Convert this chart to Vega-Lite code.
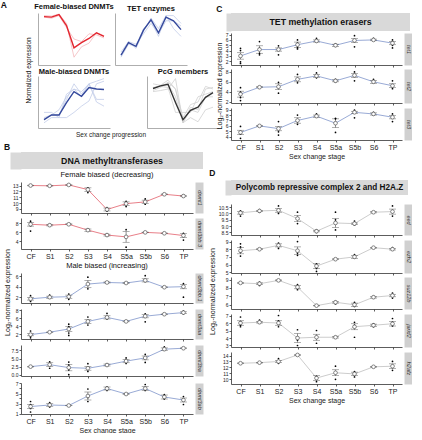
{
"$schema":"https://vega.github.io/schema/vega-lite/v6.json",
"padding":{"left":0,"top":1,"right":1,"bottom":0},
"config":{"font":"Liberation Sans","view":{"stroke":null},
 "axis":{"labelFontSize":5,"tickSize":2,"labelPadding":1,"domainColor":"#333","tickColor":"#333","labelColor":"#222","grid":false,"titleFontWeight":"normal","titleFontSize":7,"titleColor":"#222","domainWidth":0.8,"tickWidth":0.8},
 "title":{"fontSize":7.5,"fontWeight":"normal","offset":2,"color":"#111"}},
"datasets":{
"a":[
{"p":"fem","k":"mean","s":"CF","v":0.93},{"p":"fem","k":"mean","s":"S1","v":0.92},{"p":"fem","k":"mean","s":"S2","v":0.97},{"p":"fem","k":"mean","s":"S3","v":0.76},{"p":"fem","k":"mean","s":"S4","v":0.33},{"p":"fem","k":"mean","s":"S5a","v":0.43},{"p":"fem","k":"mean","s":"S5b","v":0.51},{"p":"fem","k":"mean","s":"S6","v":0.62},{"p":"fem","k":"mean","s":"TP","v":0.55},
{"p":"fem","k":"f1","s":"CF","v":0.95},{"p":"fem","k":"f1","s":"S1","v":0.94},{"p":"fem","k":"f1","s":"S2","v":0.98},{"p":"fem","k":"f1","s":"S3","v":0.8},{"p":"fem","k":"f1","s":"S4","v":0.15},{"p":"fem","k":"f1","s":"S5a","v":0.35},{"p":"fem","k":"f1","s":"S5b","v":0.42},{"p":"fem","k":"f1","s":"S6","v":0.62},{"p":"fem","k":"f1","s":"TP","v":0.56},
{"p":"fem","k":"f2","s":"CF","v":0.92},{"p":"fem","k":"f2","s":"S1","v":0.9},{"p":"fem","k":"f2","s":"S2","v":0.95},{"p":"fem","k":"f2","s":"S3","v":0.72},{"p":"fem","k":"f2","s":"S4","v":0.5},{"p":"fem","k":"f2","s":"S5a","v":0.45},{"p":"fem","k":"f2","s":"S5b","v":0.6},{"p":"fem","k":"f2","s":"S6","v":0.58},{"p":"fem","k":"f2","s":"TP","v":0.52},
{"p":"tet","k":"mean","s":"CF","v":0.19},{"p":"tet","k":"mean","s":"S1","v":0.43},{"p":"tet","k":"mean","s":"S2","v":0.36},{"p":"tet","k":"mean","s":"S3","v":0.67},{"p":"tet","k":"mean","s":"S4","v":0.87},{"p":"tet","k":"mean","s":"S5a","v":0.62},{"p":"tet","k":"mean","s":"S5b","v":0.92},{"p":"tet","k":"mean","s":"S6","v":0.85},{"p":"tet","k":"mean","s":"TP","v":0.68},
{"p":"tet","k":"t1","s":"CF","v":0.25},{"p":"tet","k":"t1","s":"S1","v":0.45},{"p":"tet","k":"t1","s":"S2","v":0.4},{"p":"tet","k":"t1","s":"S3","v":0.6},{"p":"tet","k":"t1","s":"S4","v":0.8},{"p":"tet","k":"t1","s":"S5a","v":0.6},{"p":"tet","k":"t1","s":"S5b","v":0.85},{"p":"tet","k":"t1","s":"S6","v":0.85},{"p":"tet","k":"t1","s":"TP","v":0.75},
{"p":"tet","k":"t2","s":"CF","v":0.15},{"p":"tet","k":"t2","s":"S1","v":0.4},{"p":"tet","k":"t2","s":"S2","v":0.35},{"p":"tet","k":"t2","s":"S3","v":0.7},{"p":"tet","k":"t2","s":"S4","v":0.85},{"p":"tet","k":"t2","s":"S5a","v":0.55},{"p":"tet","k":"t2","s":"S5b","v":0.95},{"p":"tet","k":"t2","s":"S6","v":0.7},{"p":"tet","k":"t2","s":"TP","v":0.55},
{"p":"tet","k":"t3","s":"CF","v":0.18},{"p":"tet","k":"t3","s":"S1","v":0.45},{"p":"tet","k":"t3","s":"S2","v":0.32},{"p":"tet","k":"t3","s":"S3","v":0.65},{"p":"tet","k":"t3","s":"S4","v":0.9},{"p":"tet","k":"t3","s":"S5a","v":0.7},{"p":"tet","k":"t3","s":"S5b","v":0.95},{"p":"tet","k":"t3","s":"S6","v":0.95},{"p":"tet","k":"t3","s":"TP","v":0.8},
{"p":"mal","k":"mean","s":"CF","v":0.16},{"p":"mal","k":"mean","s":"S1","v":0.25},{"p":"mal","k":"mean","s":"S2","v":0.25},{"p":"mal","k":"mean","s":"S3","v":0.49},{"p":"mal","k":"mean","s":"S4","v":0.7},{"p":"mal","k":"mean","s":"S5a","v":0.61},{"p":"mal","k":"mean","s":"S5b","v":0.78},{"p":"mal","k":"mean","s":"S6","v":0.75},{"p":"mal","k":"mean","s":"TP","v":0.74},
{"p":"mal","k":"m1","s":"CF","v":0.1},{"p":"mal","k":"m1","s":"S1","v":0.2},{"p":"mal","k":"m1","s":"S2","v":0.2},{"p":"mal","k":"m1","s":"S3","v":0.65},{"p":"mal","k":"m1","s":"S4","v":0.75},{"p":"mal","k":"m1","s":"S5a","v":0.7},{"p":"mal","k":"m1","s":"S5b","v":0.85},{"p":"mal","k":"m1","s":"S6","v":0.55},{"p":"mal","k":"m1","s":"TP","v":0.55},
{"p":"mal","k":"m2","s":"CF","v":0.15},{"p":"mal","k":"m2","s":"S1","v":0.25},{"p":"mal","k":"m2","s":"S2","v":0.35},{"p":"mal","k":"m2","s":"S3","v":0.6},{"p":"mal","k":"m2","s":"S4","v":0.75},{"p":"mal","k":"m2","s":"S5a","v":0.6},{"p":"mal","k":"m2","s":"S5b","v":0.85},{"p":"mal","k":"m2","s":"S6","v":0.9},{"p":"mal","k":"m2","s":"TP","v":0.95},
{"p":"mal","k":"m3","s":"CF","v":0.3},{"p":"mal","k":"m3","s":"S1","v":0.3},{"p":"mal","k":"m3","s":"S2","v":0.2},{"p":"mal","k":"m3","s":"S3","v":0.2},{"p":"mal","k":"m3","s":"S4","v":0.3},{"p":"mal","k":"m3","s":"S5a","v":0.42},{"p":"mal","k":"m3","s":"S5b","v":0.52},{"p":"mal","k":"m3","s":"S6","v":0.85},{"p":"mal","k":"m3","s":"TP","v":0.9},
{"p":"mal","k":"m4","s":"CF","v":0.2},{"p":"mal","k":"m4","s":"S1","v":0.25},{"p":"mal","k":"m4","s":"S2","v":0.25},{"p":"mal","k":"m4","s":"S3","v":0.55},{"p":"mal","k":"m4","s":"S4","v":0.85},{"p":"mal","k":"m4","s":"S5a","v":0.65},{"p":"mal","k":"m4","s":"S5b","v":0.85},{"p":"mal","k":"m4","s":"S6","v":0.5},{"p":"mal","k":"m4","s":"TP","v":0.42},
{"p":"pcg","k":"mean","s":"CF","v":0.76},{"p":"pcg","k":"mean","s":"S1","v":0.81},{"p":"pcg","k":"mean","s":"S2","v":0.84},{"p":"pcg","k":"mean","s":"S3","v":0.49},{"p":"pcg","k":"mean","s":"S4","v":0.16},{"p":"pcg","k":"mean","s":"S5a","v":0.34},{"p":"pcg","k":"mean","s":"S5b","v":0.4},{"p":"pcg","k":"mean","s":"S6","v":0.59},{"p":"pcg","k":"mean","s":"TP","v":0.68},
{"p":"pcg","k":"c1","s":"CF","v":0.75},{"p":"pcg","k":"c1","s":"S1","v":0.82},{"p":"pcg","k":"c1","s":"S2","v":0.85},{"p":"pcg","k":"c1","s":"S3","v":0.6},{"p":"pcg","k":"c1","s":"S4","v":0.1},{"p":"pcg","k":"c1","s":"S5a","v":0.4},{"p":"pcg","k":"c1","s":"S5b","v":0.35},{"p":"pcg","k":"c1","s":"S6","v":0.75},{"p":"pcg","k":"c1","s":"TP","v":0.78},
{"p":"pcg","k":"c2","s":"CF","v":0.72},{"p":"pcg","k":"c2","s":"S1","v":0.78},{"p":"pcg","k":"c2","s":"S2","v":0.88},{"p":"pcg","k":"c2","s":"S3","v":0.75},{"p":"pcg","k":"c2","s":"S4","v":0.2},{"p":"pcg","k":"c2","s":"S5a","v":0.45},{"p":"pcg","k":"c2","s":"S5b","v":0.5},{"p":"pcg","k":"c2","s":"S6","v":0.8},{"p":"pcg","k":"c2","s":"TP","v":0.75},
{"p":"pcg","k":"c3","s":"CF","v":0.85},{"p":"pcg","k":"c3","s":"S1","v":0.82},{"p":"pcg","k":"c3","s":"S2","v":0.92},{"p":"pcg","k":"c3","s":"S3","v":0.75},{"p":"pcg","k":"c3","s":"S4","v":0.1},{"p":"pcg","k":"c3","s":"S5a","v":0.2},{"p":"pcg","k":"c3","s":"S5b","v":0.12},{"p":"pcg","k":"c3","s":"S6","v":0.35},{"p":"pcg","k":"c3","s":"TP","v":0.4},
{"p":"pcg","k":"c4","s":"CF","v":0.78},{"p":"pcg","k":"c4","s":"S1","v":0.8},{"p":"pcg","k":"c4","s":"S2","v":0.78},{"p":"pcg","k":"c4","s":"S3","v":0.3},{"p":"pcg","k":"c4","s":"S4","v":0.3},{"p":"pcg","k":"c4","s":"S5a","v":0.3},{"p":"pcg","k":"c4","s":"S5b","v":0.6},{"p":"pcg","k":"c4","s":"S6","v":0.65},{"p":"pcg","k":"c4","s":"TP","v":0.7},
{"p":"pcg","k":"c5","s":"CF","v":0.7},{"p":"pcg","k":"c5","s":"S1","v":0.72},{"p":"pcg","k":"c5","s":"S2","v":0.75},{"p":"pcg","k":"c5","s":"S3","v":0.95},{"p":"pcg","k":"c5","s":"S4","v":0.1},{"p":"pcg","k":"c5","s":"S5a","v":0.35},{"p":"pcg","k":"c5","s":"S5b","v":0.3},{"p":"pcg","k":"c5","s":"S6","v":0.6},{"p":"pcg","k":"c5","s":"TP","v":0.6}
],
"g":[
{"g":"dnmt1","s":"CF","m":13.0,"lo":12.95,"hi":13.05,"r":[13.0,13.05,12.98]},
{"g":"dnmt1","s":"S1","m":12.95,"lo":12.9,"hi":13.0,"r":[12.9,13.0]},
{"g":"dnmt1","s":"S2","m":13.1,"lo":13.02,"hi":13.18,"r":[13.2,13.05]},
{"g":"dnmt1","s":"S3","m":12.3,"lo":12.0,"hi":12.6,"r":[12.6,12.2,11.8]},
{"g":"dnmt1","s":"S4","m":8.9,"lo":8.65,"hi":9.15,"r":[9.2,8.8,8.6]},
{"g":"dnmt1","s":"S5a","m":9.9,"lo":9.6,"hi":10.2,"r":[10.3,9.9,9.4]},
{"g":"dnmt1","s":"S5b","m":10.2,"lo":9.9,"hi":10.5,"r":[10.7,10.2,9.8]},
{"g":"dnmt1","s":"S6","m":11.5,"lo":11.45,"hi":11.55,"r":[11.5]},
{"g":"dnmt1","s":"TP","m":11.2,"lo":11.1,"hi":11.3,"r":[11.3,11.1]},
{"g":"dnmt3bb.3","s":"CF","m":7.8,"lo":7.4,"hi":8.2,"r":[8.5,8.0,7.5,6.3]},
{"g":"dnmt3bb.3","s":"S1","m":7.6,"lo":7.45,"hi":7.75,"r":[7.8,7.5]},
{"g":"dnmt3bb.3","s":"S2","m":7.8,"lo":7.7,"hi":7.9,"r":[7.9,7.6]},
{"g":"dnmt3bb.3","s":"S3","m":6.5,"lo":6.25,"hi":6.75,"r":[6.7,6.3]},
{"g":"dnmt3bb.3","s":"S4","m":5.4,"lo":5.2,"hi":5.6,"r":[5.6,5.2]},
{"g":"dnmt3bb.3","s":"S5a","m":5.0,"lo":3.8,"hi":6.2,"r":[6.6,5.1,2.7]},
{"g":"dnmt3bb.3","s":"S5b","m":6.0,"lo":5.95,"hi":6.05,"r":[6.0]},
{"g":"dnmt3bb.3","s":"S6","m":5.8,"lo":5.75,"hi":5.85,"r":[5.8]},
{"g":"dnmt3bb.3","s":"TP","m":5.3,"lo":4.9,"hi":5.7,"r":[5.8,5.1,4.3]},
{"g":"dnmt3bb.1","s":"CF","m":1.7,"lo":1.45,"hi":1.95,"r":[2.3,1.6,1.2]},
{"g":"dnmt3bb.1","s":"S1","m":2.0,"lo":1.8,"hi":2.2,"r":[2.4,1.9]},
{"g":"dnmt3bb.1","s":"S2","m":2.1,"lo":1.8,"hi":2.4,"r":[2.6,2.0,1.6]},
{"g":"dnmt3bb.1","s":"S3","m":4.5,"lo":3.8,"hi":5.2,"r":[5.8,4.5,3.6]},
{"g":"dnmt3bb.1","s":"S4","m":4.8,"lo":4.7,"hi":4.9,"r":[4.8]},
{"g":"dnmt3bb.1","s":"S5a","m":4.7,"lo":4.65,"hi":4.75,"r":[4.7]},
{"g":"dnmt3bb.1","s":"S5b","m":5.2,"lo":4.9,"hi":5.5,"r":[6.1,5.0]},
{"g":"dnmt3bb.1","s":"S6","m":3.9,"lo":3.85,"hi":3.95,"r":[3.9]},
{"g":"dnmt3bb.1","s":"TP","m":4.0,"lo":3.6,"hi":4.4,"r":[4.6,4.2,2.0]},
{"g":"dnmt3aa","s":"CF","m":1.9,"lo":1.6,"hi":2.2,"r":[2.8,1.5,1.1]},
{"g":"dnmt3aa","s":"S1","m":2.5,"lo":2.45,"hi":2.55,"r":[2.5]},
{"g":"dnmt3aa","s":"S2","m":3.3,"lo":2.7,"hi":3.9,"r":[4.5,3.9,2.3,1.7]},
{"g":"dnmt3aa","s":"S3","m":5.2,"lo":4.7,"hi":5.7,"r":[6.3,5.0,4.3]},
{"g":"dnmt3aa","s":"S4","m":6.2,"lo":5.8,"hi":6.6,"r":[7.2,6.0,5.8]},
{"g":"dnmt3aa","s":"S5a","m":5.2,"lo":5.1,"hi":5.3,"r":[5.2]},
{"g":"dnmt3aa","s":"S5b","m":6.5,"lo":6.1,"hi":6.9,"r":[7.1,6.6,5.1]},
{"g":"dnmt3aa","s":"S6","m":7.0,"lo":6.95,"hi":7.05,"r":[7.0]},
{"g":"dnmt3aa","s":"TP","m":7.4,"lo":7.2,"hi":7.6,"r":[7.8,7.1]},
{"g":"dnmt3ba","s":"CF","m":2.5,"lo":2.4,"hi":2.6,"r":[2.5]},
{"g":"dnmt3ba","s":"S1","m":3.1,"lo":2.5,"hi":3.7,"r":[4.0,3.0,2.0]},
{"g":"dnmt3ba","s":"S2","m":2.2,"lo":1.2,"hi":3.2,"r":[3.9,3.0,1.5,0.0]},
{"g":"dnmt3ba","s":"S3","m":2.0,"lo":1.4,"hi":2.6,"r":[3.4,2.0,1.0]},
{"g":"dnmt3ba","s":"S4","m":3.0,"lo":2.7,"hi":3.3,"r":[3.3,2.8]},
{"g":"dnmt3ba","s":"S5a","m":4.2,"lo":3.7,"hi":4.7,"r":[5.2,4.0,3.5]},
{"g":"dnmt3ba","s":"S5b","m":5.2,"lo":4.6,"hi":5.8,"r":[6.3,5.0,3.8]},
{"g":"dnmt3ba","s":"S6","m":7.9,"lo":7.5,"hi":8.3,"r":[8.6,7.6]},
{"g":"dnmt3ba","s":"TP","m":8.2,"lo":8.1,"hi":8.3,"r":[8.3]},
{"g":"dnmt3ab","s":"CF","m":2.4,"lo":2.0,"hi":2.8,"r":[3.4,2.8,2.0,1.3]},
{"g":"dnmt3ab","s":"S1","m":2.7,"lo":2.4,"hi":3.0,"r":[3.2,2.6,2.3]},
{"g":"dnmt3ab","s":"S2","m":2.6,"lo":2.55,"hi":2.65,"r":[2.6]},
{"g":"dnmt3ab","s":"S3","m":4.5,"lo":3.7,"hi":5.3,"r":[5.9,4.2,3.4]},
{"g":"dnmt3ab","s":"S4","m":6.0,"lo":5.7,"hi":6.3,"r":[6.3,5.6]},
{"g":"dnmt3ab","s":"S5a","m":4.9,"lo":4.85,"hi":4.95,"r":[4.9]},
{"g":"dnmt3ab","s":"S5b","m":6.0,"lo":5.6,"hi":6.4,"r":[6.8,5.6]},
{"g":"dnmt3ab","s":"S6","m":4.3,"lo":3.9,"hi":4.7,"r":[4.8,3.9]},
{"g":"dnmt3ab","s":"TP","m":3.7,"lo":3.3,"hi":4.1,"r":[4.4,3.8,2.8]},
{"g":"tet1","s":"CF","m":3.0,"lo":2.4,"hi":3.6,"r":[4.4,4.0,1.9,1.6]},
{"g":"tet1","s":"S1","m":4.2,"lo":3.5,"hi":4.9,"r":[5.7,4.4,3.5,3.2]},
{"g":"tet1","s":"S2","m":4.2,"lo":3.9,"hi":4.5,"r":[4.9,4.3,3.2]},
{"g":"tet1","s":"S3","m":5.1,"lo":4.6,"hi":5.6,"r":[6.0,5.4,4.5,4.3]},
{"g":"tet1","s":"S4","m":5.8,"lo":5.6,"hi":6.0,"r":[6.3,5.7]},
{"g":"tet1","s":"S5a","m":5.0,"lo":4.8,"hi":5.2,"r":[5.2,4.8]},
{"g":"tet1","s":"S5b","m":5.9,"lo":5.5,"hi":6.3,"r":[6.8,6.0,4.7]},
{"g":"tet1","s":"S6","m":6.0,"lo":5.85,"hi":6.15,"r":[6.3,6.0]},
{"g":"tet1","s":"TP","m":5.4,"lo":5.1,"hi":5.7,"r":[6.0,5.6,5.0,4.5]},
{"g":"tet2","s":"CF","m":3.5,"lo":2.9,"hi":4.1,"r":[4.8,3.9,2.8,2.2]},
{"g":"tet2","s":"S1","m":4.9,"lo":4.8,"hi":5.0,"r":[5.0,4.8]},
{"g":"tet2","s":"S2","m":5.0,"lo":4.4,"hi":5.6,"r":[5.9,4.9,3.7]},
{"g":"tet2","s":"S3","m":6.5,"lo":6.0,"hi":7.0,"r":[7.5,6.4,5.8]},
{"g":"tet2","s":"S4","m":7.2,"lo":6.9,"hi":7.5,"r":[7.8,7.0,6.8]},
{"g":"tet2","s":"S5a","m":6.2,"lo":6.0,"hi":6.4,"r":[6.5,6.0]},
{"g":"tet2","s":"S5b","m":7.3,"lo":6.9,"hi":7.7,"r":[8.0,7.4,6.2]},
{"g":"tet2","s":"S6","m":6.0,"lo":5.7,"hi":6.3,"r":[6.5,5.9]},
{"g":"tet2","s":"TP","m":5.2,"lo":4.8,"hi":5.6,"r":[6.2,5.2,4.6]},
{"g":"tet3","s":"CF","m":4.8,"lo":4.4,"hi":5.2,"r":[5.9,5.0,4.5,3.7]},
{"g":"tet3","s":"S1","m":6.0,"lo":5.95,"hi":6.05,"r":[6.0]},
{"g":"tet3","s":"S2","m":5.5,"lo":5.1,"hi":5.9,"r":[6.8,5.5,4.9,4.3]},
{"g":"tet3","s":"S3","m":7.0,"lo":6.5,"hi":7.5,"r":[8.0,6.8,6.3]},
{"g":"tet3","s":"S4","m":7.8,"lo":7.6,"hi":8.0,"r":[8.2,7.6]},
{"g":"tet3","s":"S5a","m":6.5,"lo":5.7,"hi":7.3,"r":[7.4,7.3,4.8]},
{"g":"tet3","s":"S5b","m":8.5,"lo":8.3,"hi":8.7,"r":[8.9,8.5,7.5]},
{"g":"tet3","s":"S6","m":8.2,"lo":8.0,"hi":8.4,"r":[8.5,8.1]},
{"g":"tet3","s":"TP","m":7.6,"lo":7.3,"hi":7.9,"r":[8.2,7.6,6.8]},
{"g":"eed","s":"CF","m":10.05,"lo":9.95,"hi":10.15,"r":[10.2,10.0,9.8]},
{"g":"eed","s":"S1","m":10.2,"lo":10.15,"hi":10.25,"r":[10.3,10.1]},
{"g":"eed","s":"S2","m":10.25,"lo":10.1,"hi":10.4,"r":[10.6,10.2,10.0]},
{"g":"eed","s":"S3","m":9.6,"lo":9.35,"hi":9.85,"r":[10.1,9.6,9.2]},
{"g":"eed","s":"S4","m":8.6,"lo":8.55,"hi":8.65,"r":[8.7,8.5]},
{"g":"eed","s":"S5a","m":9.25,"lo":8.9,"hi":9.6,"r":[10.1,9.5,8.7]},
{"g":"eed","s":"S5b","m":9.2,"lo":9.15,"hi":9.25,"r":[9.4,9.2,9.1]},
{"g":"eed","s":"S6","m":10.1,"lo":10.05,"hi":10.15,"r":[10.1]},
{"g":"eed","s":"TP","m":10.15,"lo":9.95,"hi":10.35,"r":[10.6,10.2,9.8]},
{"g":"ezh2","s":"CF","m":7.8,"lo":7.4,"hi":8.2,"r":[8.7,8.3,7.6,7.1]},
{"g":"ezh2","s":"S1","m":8.0,"lo":7.95,"hi":8.05,"r":[8.0]},
{"g":"ezh2","s":"S2","m":8.5,"lo":8.3,"hi":8.7,"r":[8.8,8.5,8.1]},
{"g":"ezh2","s":"S3","m":7.8,"lo":7.3,"hi":8.3,"r":[9.0,7.5,7.2]},
{"g":"ezh2","s":"S4","m":5.8,"lo":5.5,"hi":6.1,"r":[6.1,5.5,5.1]},
{"g":"ezh2","s":"S5a","m":6.7,"lo":6.65,"hi":6.75,"r":[6.7]},
{"g":"ezh2","s":"S5b","m":7.0,"lo":6.8,"hi":7.2,"r":[7.3,6.9]},
{"g":"ezh2","s":"S6","m":8.2,"lo":8.15,"hi":8.25,"r":[8.2]},
{"g":"ezh2","s":"TP","m":8.0,"lo":7.9,"hi":8.1,"r":[8.2,7.9]},
{"g":"suz12b","s":"CF","m":8.6,"lo":8.55,"hi":8.65,"r":[8.6]},
{"g":"suz12b","s":"S1","m":8.5,"lo":8.4,"hi":8.6,"r":[8.7,8.3]},
{"g":"suz12b","s":"S2","m":8.9,"lo":8.85,"hi":8.95,"r":[8.9]},
{"g":"suz12b","s":"S3","m":8.1,"lo":7.9,"hi":8.3,"r":[8.4,7.8]},
{"g":"suz12b","s":"S4","m":5.9,"lo":5.87,"hi":5.93,"r":[5.9]},
{"g":"suz12b","s":"S5a","m":6.3,"lo":6.2,"hi":6.4,"r":[6.4,6.1]},
{"g":"suz12b","s":"S5b","m":6.0,"lo":5.8,"hi":6.2,"r":[6.3,5.8]},
{"g":"suz12b","s":"S6","m":6.9,"lo":6.8,"hi":7.0,"r":[7.0,6.8]},
{"g":"suz12b","s":"TP","m":7.1,"lo":6.95,"hi":7.25,"r":[7.4,7.0,6.8]},
{"g":"jarid2","s":"CF","m":6.0,"lo":5.7,"hi":6.3,"r":[6.8,6.2,5.7,5.5]},
{"g":"jarid2","s":"S1","m":6.1,"lo":6.0,"hi":6.2,"r":[6.4,6.0]},
{"g":"jarid2","s":"S2","m":6.0,"lo":5.7,"hi":6.3,"r":[7.0,6.3,5.5]},
{"g":"jarid2","s":"S3","m":4.0,"lo":3.4,"hi":4.6,"r":[5.1,3.7,3.0]},
{"g":"jarid2","s":"S4","m":4.1,"lo":3.7,"hi":4.5,"r":[5.0,4.0,3.3]},
{"g":"jarid2","s":"S5a","m":4.1,"lo":4.0,"hi":4.2,"r":[4.2]},
{"g":"jarid2","s":"S5b","m":5.5,"lo":5.1,"hi":5.9,"r":[6.1,5.7,4.1]},
{"g":"jarid2","s":"S6","m":5.7,"lo":5.55,"hi":5.85,"r":[5.9,5.5]},
{"g":"jarid2","s":"TP","m":5.9,"lo":5.6,"hi":6.2,"r":[6.6,6.1,5.6]},
{"g":"h2afz","s":"CF","m":12.7,"lo":12.65,"hi":12.75,"r":[12.7]},
{"g":"h2afz","s":"S1","m":12.8,"lo":12.75,"hi":12.85,"r":[12.8]},
{"g":"h2afz","s":"S2","m":13.0,"lo":12.8,"hi":13.2,"r":[13.5,12.7]},
{"g":"h2afz","s":"S3","m":14.1,"lo":14.0,"hi":14.2,"r":[14.1]},
{"g":"h2afz","s":"S4","m":10.2,"lo":9.8,"hi":10.6,"r":[10.5,9.6]},
{"g":"h2afz","s":"S5a","m":11.1,"lo":10.6,"hi":11.6,"r":[12.2,11.1,10.0]},
{"g":"h2afz","s":"S5b","m":10.9,"lo":10.6,"hi":11.2,"r":[11.3,10.4]},
{"g":"h2afz","s":"S6","m":12.1,"lo":12.05,"hi":12.15,"r":[12.1]},
{"g":"h2afz","s":"TP","m":12.2,"lo":11.8,"hi":12.6,"r":[13.0,12.3,11.5]}
]},
"spacing":-10,
"hconcat":[
{"spacing":4,"vconcat":[
 {"spacing":0,"hconcat":[
  {"width":1,"height":1,"data":{"values":[{}]},"mark":{"type":"point","opacity":0},"encoding":{},
   "title":{"text":"A","anchor":"start","dx":-18,"fontSize":8.5,"fontWeight":"bold","offset":1}},
  {"spacing":2,"title":{"text":"Normalized expression","orient":"left","anchor":"middle","fontSize":6.5,"offset":2},"vconcat":[
   {"spacing":1,"hconcat":[
    {"width":72,"height":52,"data":{"name":"a"},"transform":[{"filter":"datum.p=='fem'"}],
     "title":{"text":"Female-biased DNMTs","fontSize":7.5,"fontWeight":"bold","offset":1},
     "encoding":{"x":{"field":"s","type":"ordinal","scale":{"type":"point","padding":0.8,"domain":["CF","S1","S2","S3","S4","S5a","S5b","S6","TP"]},"axis":{"labels":false,"ticks":false,"title":null,"domainColor":"#999"}},
      "y":{"field":"v","type":"quantitative","scale":{"domain":[0,1]},"axis":{"labels":false,"ticks":false,"domainColor":"#999","title":null}}},
     "layer":[
      {"transform":[{"filter":"datum.k!='mean'"}],"mark":{"type":"line","color":"#f4b9bc","strokeWidth":0.8},"encoding":{"detail":{"field":"k"}}},
      {"transform":[{"filter":"datum.k=='mean'"}],"mark":{"type":"line","color":"#e3262f","strokeWidth":1.4},"encoding":{}}]},
    {"width":72,"height":52,"data":{"name":"a"},"transform":[{"filter":"datum.p=='tet'"}],
     "title":{"text":"TET enzymes","fontSize":7.5,"fontWeight":"bold","offset":1},
     "encoding":{"x":{"field":"s","type":"ordinal","scale":{"type":"point","padding":0.8,"domain":["CF","S1","S2","S3","S4","S5a","S5b","S6","TP"]},"axis":{"labels":false,"ticks":false,"title":null,"domainColor":"#999"}},
      "y":{"field":"v","type":"quantitative","scale":{"domain":[0,1]},"axis":{"labels":false,"ticks":false,"domainColor":"#999","title":null}}},
     "layer":[
      {"transform":[{"filter":"datum.k!='mean'"}],"mark":{"type":"line","color":"#c3cde9","strokeWidth":0.8},"encoding":{"detail":{"field":"k"}}},
      {"transform":[{"filter":"datum.k=='mean'"}],"mark":{"type":"line","color":"#34489c","strokeWidth":1.4},"encoding":{}}]}
   ]},
   {"spacing":1,"hconcat":[
    {"width":72,"height":52,"data":{"name":"a"},"transform":[{"filter":"datum.p=='mal'"}],
     "title":{"text":"Male-biased DNMTs","fontSize":7.5,"fontWeight":"bold","offset":1},
     "encoding":{"x":{"field":"s","type":"ordinal","scale":{"type":"point","padding":0.8,"domain":["CF","S1","S2","S3","S4","S5a","S5b","S6","TP"]},"axis":{"labels":false,"ticks":false,"title":"Sex change progression","titleX":72.5,"titleFontSize":6.5,"titlePadding":3,"domainColor":"#999"}},
      "y":{"field":"v","type":"quantitative","scale":{"domain":[0,1]},"axis":{"labels":false,"ticks":false,"domainColor":"#999","title":null}}},
     "layer":[
      {"transform":[{"filter":"datum.k!='mean'"}],"mark":{"type":"line","color":"#c3cde9","strokeWidth":0.8},"encoding":{"detail":{"field":"k"}}},
      {"transform":[{"filter":"datum.k=='mean'"}],"mark":{"type":"line","color":"#34489c","strokeWidth":1.4},"encoding":{}}]},
    {"width":72,"height":52,"data":{"name":"a"},"transform":[{"filter":"datum.p=='pcg'"}],
     "title":{"text":"PcG members","fontSize":7.5,"fontWeight":"bold","offset":1},
     "encoding":{"x":{"field":"s","type":"ordinal","scale":{"type":"point","padding":0.8,"domain":["CF","S1","S2","S3","S4","S5a","S5b","S6","TP"]},"axis":{"labels":false,"ticks":false,"title":null,"domainColor":"#999"}},
      "y":{"field":"v","type":"quantitative","scale":{"domain":[0,1]},"axis":{"labels":false,"ticks":false,"domainColor":"#999","title":null}}},
     "layer":[
      {"transform":[{"filter":"datum.k!='mean'"}],"mark":{"type":"line","color":"#d0d0d0","strokeWidth":0.8},"encoding":{"detail":{"field":"k"}}},
      {"transform":[{"filter":"datum.k=='mean'"}],"mark":{"type":"line","color":"#333333","strokeWidth":1.4},"encoding":{}}]}
   ]}
  ]}
 ]},
 {"title":{"text":"B","anchor":"start","fontSize":8.5,"fontWeight":"bold","offset":1},"vconcat":[
 {"spacing":2,"title":{"text":"Log₂-normalized expression","orient":"left","anchor":"middle","fontSize":7,"offset":0},"vconcat":[
  {"width":182,"height":17,"data":{"values":[{}]},"view":{"fill":"#d9d9d9","stroke":null},
   "mark":{"type":"text","text":"DNA methyltransferases","fontWeight":"bold","fontSize":8.8,"color":"#111"},
   "encoding":{"y":{"datum":0,"type":"quantitative","scale":{"domain":[-1,1]},"axis":{"orient":"left","offset":5.5,"domainWidth":11,"domainColor":"#d9d9d9","domainCap":"butt","ticks":false,"labels":false,"title":null}}}},
  {"width":172,"height":31,"data":{"name":"g"},"transform":[{"filter":"datum.g=='dnmt1'"}],
   "title":{"text":"Female biased (decreasing)","offset":3},
   "encoding":{"x":{"field":"s","type":"ordinal","scale":{"type":"point","padding":0.5,"domain":["CF","S1","S2","S3","S4","S5a","S5b","S6","TP"]},"axis":{"labels":false,"title":null}}},
   "layer":[
    {"mark":{"type":"line","color":"#e5707a","strokeWidth":0.9},"encoding":{"y":{"field":"m","type":"quantitative","scale":{"domain":[8.3,13.6],"zero":false,"nice":false},"axis":{"values":[9,10,11,12,13],"title":null}}}},
    {"mark":{"type":"errorbar","ticks":true,"color":"#444","thickness":0.6,"size":7},"encoding":{"y":{"field":"lo","type":"quantitative","axis":null},"y2":{"field":"hi"}}},
    {"transform":[{"flatten":["r"]}],"mark":{"type":"circle","size":3,"color":"#000","opacity":1},"encoding":{"y":{"field":"r","type":"quantitative","axis":null}}},
    {"mark":{"type":"point","shape":"circle","filled":true,"fill":"#fff","stroke":"#555","strokeWidth":0.7,"size":14,"opacity":1},"encoding":{"y":{"field":"m","type":"quantitative","axis":{"orient":"right","offset":6,"domainWidth":8,"domainColor":"#d0d0d0","domainCap":"butt","ticks":false,"labels":false,"title":"dnmt1","titleAngle":90,"titlePadding":-2.5,"titleFontStyle":"italic","titleFontSize":5.5,"titleColor":"#333","titleBaseline":"bottom"}}}}
   ],"resolve":{"axis":{"y":"independent"}}},
  {"width":172,"height":31,"data":{"name":"g"},"transform":[{"filter":"datum.g=='dnmt3bb.3'"}],
   "encoding":{"x":{"field":"s","type":"ordinal","scale":{"type":"point","padding":0.5,"domain":["CF","S1","S2","S3","S4","S5a","S5b","S6","TP"]},"axis":{"labelAngle":0,"labelFontSize":7,"title":null}}},
   "layer":[
    {"mark":{"type":"line","color":"#e5707a","strokeWidth":0.9},"encoding":{"y":{"field":"m","type":"quantitative","scale":{"domain":[2.3,9.2],"zero":false,"nice":false},"axis":{"values":[4,6,8],"title":null}}}},
    {"mark":{"type":"errorbar","ticks":true,"color":"#444","thickness":0.6,"size":7},"encoding":{"y":{"field":"lo","type":"quantitative","axis":null},"y2":{"field":"hi"}}},
    {"transform":[{"flatten":["r"]}],"mark":{"type":"circle","size":3,"color":"#000","opacity":1},"encoding":{"y":{"field":"r","type":"quantitative","axis":null}}},
    {"mark":{"type":"point","shape":"circle","filled":true,"fill":"#fff","stroke":"#555","strokeWidth":0.7,"size":14,"opacity":1},"encoding":{"y":{"field":"m","type":"quantitative","axis":{"orient":"right","offset":6,"domainWidth":8,"domainColor":"#d0d0d0","domainCap":"butt","ticks":false,"labels":false,"title":"dnmt3bb.3","titleAngle":90,"titlePadding":-2.5,"titleFontStyle":"italic","titleFontSize":5.5,"titleColor":"#333","titleBaseline":"bottom"}}}}
   ],"resolve":{"axis":{"y":"independent"}}},
  {"width":172,"height":30,"data":{"name":"g"},"transform":[{"filter":"datum.g=='dnmt3bb.1'"}],
   "title":{"text":"Male biased (increasing)","offset":4},
   "encoding":{"x":{"field":"s","type":"ordinal","scale":{"type":"point","padding":0.5,"domain":["CF","S1","S2","S3","S4","S5a","S5b","S6","TP"]},"axis":{"labels":false,"title":null}}},
   "layer":[
    {"mark":{"type":"line","color":"#8da0d0","strokeWidth":0.9},"encoding":{"y":{"field":"m","type":"quantitative","scale":{"domain":[0.9,6.6],"zero":false,"nice":false},"axis":{"values":[2,4,6],"title":null}}}},
    {"mark":{"type":"errorbar","ticks":true,"color":"#444","thickness":0.6,"size":7},"encoding":{"y":{"field":"lo","type":"quantitative","axis":null},"y2":{"field":"hi"}}},
    {"transform":[{"flatten":["r"]}],"mark":{"type":"circle","size":3,"color":"#000","opacity":1},"encoding":{"y":{"field":"r","type":"quantitative","axis":null}}},
    {"mark":{"type":"point","shape":"circle","filled":true,"fill":"#fff","stroke":"#555","strokeWidth":0.7,"size":14,"opacity":1},"encoding":{"y":{"field":"m","type":"quantitative","axis":{"orient":"right","offset":6,"domainWidth":8,"domainColor":"#d0d0d0","domainCap":"butt","ticks":false,"labels":false,"title":"dnmt3bb.1","titleAngle":90,"titlePadding":-2.5,"titleFontStyle":"italic","titleFontSize":5.5,"titleColor":"#333","titleBaseline":"bottom"}}}}
   ],"resolve":{"axis":{"y":"independent"}}},
  {"width":172,"height":30,"data":{"name":"g"},"transform":[{"filter":"datum.g=='dnmt3aa'"}],
   "encoding":{"x":{"field":"s","type":"ordinal","scale":{"type":"point","padding":0.5,"domain":["CF","S1","S2","S3","S4","S5a","S5b","S6","TP"]},"axis":{"labels":false,"title":null}}},
   "layer":[
    {"mark":{"type":"line","color":"#8da0d0","strokeWidth":0.9},"encoding":{"y":{"field":"m","type":"quantitative","scale":{"domain":[0.8,8.3],"zero":false,"nice":false},"axis":{"values":[2,4,6,8],"title":null}}}},
    {"mark":{"type":"errorbar","ticks":true,"color":"#444","thickness":0.6,"size":7},"encoding":{"y":{"field":"lo","type":"quantitative","axis":null},"y2":{"field":"hi"}}},
    {"transform":[{"flatten":["r"]}],"mark":{"type":"circle","size":3,"color":"#000","opacity":1},"encoding":{"y":{"field":"r","type":"quantitative","axis":null}}},
    {"mark":{"type":"point","shape":"circle","filled":true,"fill":"#fff","stroke":"#555","strokeWidth":0.7,"size":14,"opacity":1},"encoding":{"y":{"field":"m","type":"quantitative","axis":{"orient":"right","offset":6,"domainWidth":8,"domainColor":"#d0d0d0","domainCap":"butt","ticks":false,"labels":false,"title":"dnmt3aa","titleAngle":90,"titlePadding":-2.5,"titleFontStyle":"italic","titleFontSize":5.5,"titleColor":"#333","titleBaseline":"bottom"}}}}
   ],"resolve":{"axis":{"y":"independent"}}},
  {"width":172,"height":31,"data":{"name":"g"},"transform":[{"filter":"datum.g=='dnmt3ba'"}],
   "encoding":{"x":{"field":"s","type":"ordinal","scale":{"type":"point","padding":0.5,"domain":["CF","S1","S2","S3","S4","S5a","S5b","S6","TP"]},"axis":{"labels":false,"title":null}}},
   "layer":[
    {"mark":{"type":"line","color":"#8da0d0","strokeWidth":0.9},"encoding":{"y":{"field":"m","type":"quantitative","scale":{"domain":[-0.4,9.2],"zero":false,"nice":false},"axis":{"values":[0,2.5,5,7.5],"format":".1f","title":null}}}},
    {"mark":{"type":"errorbar","ticks":true,"color":"#444","thickness":0.6,"size":7},"encoding":{"y":{"field":"lo","type":"quantitative","axis":null},"y2":{"field":"hi"}}},
    {"transform":[{"flatten":["r"]}],"mark":{"type":"circle","size":3,"color":"#000","opacity":1},"encoding":{"y":{"field":"r","type":"quantitative","axis":null}}},
    {"mark":{"type":"point","shape":"circle","filled":true,"fill":"#fff","stroke":"#555","strokeWidth":0.7,"size":14,"opacity":1},"encoding":{"y":{"field":"m","type":"quantitative","axis":{"orient":"right","offset":6,"domainWidth":8,"domainColor":"#d0d0d0","domainCap":"butt","ticks":false,"labels":false,"title":"dnmt3ba","titleAngle":90,"titlePadding":-2.5,"titleFontStyle":"italic","titleFontSize":5.5,"titleColor":"#333","titleBaseline":"bottom"}}}}
   ],"resolve":{"axis":{"y":"independent"}}},
  {"width":172,"height":31,"data":{"name":"g"},"transform":[{"filter":"datum.g=='dnmt3ab'"}],
   "encoding":{"x":{"field":"s","type":"ordinal","scale":{"type":"point","padding":0.5,"domain":["CF","S1","S2","S3","S4","S5a","S5b","S6","TP"]},"axis":{"labelAngle":0,"labelFontSize":7,"title":"Sex change stage","titlePadding":2}}},
   "layer":[
    {"mark":{"type":"line","color":"#8da0d0","strokeWidth":0.9},"encoding":{"y":{"field":"m","type":"quantitative","scale":{"domain":[0.9,7.1],"zero":false,"nice":false},"axis":{"values":[1,2,3,4,5,6,7],"title":null}}}},
    {"mark":{"type":"errorbar","ticks":true,"color":"#444","thickness":0.6,"size":7},"encoding":{"y":{"field":"lo","type":"quantitative","axis":null},"y2":{"field":"hi"}}},
    {"transform":[{"flatten":["r"]}],"mark":{"type":"circle","size":3,"color":"#000","opacity":1},"encoding":{"y":{"field":"r","type":"quantitative","axis":null}}},
    {"mark":{"type":"point","shape":"circle","filled":true,"fill":"#fff","stroke":"#555","strokeWidth":0.7,"size":14,"opacity":1},"encoding":{"y":{"field":"m","type":"quantitative","axis":{"orient":"right","offset":6,"domainWidth":8,"domainColor":"#d0d0d0","domainCap":"butt","ticks":false,"labels":false,"title":"dnmt3ab","titleAngle":90,"titlePadding":-2.5,"titleFontStyle":"italic","titleFontSize":5.5,"titleColor":"#333","titleBaseline":"bottom"}}}}
   ],"resolve":{"axis":{"y":"independent"}}}
 ]}]}
]},
{"spacing":9,"vconcat":[
 {"title":{"text":"C","anchor":"start","fontSize":8.5,"fontWeight":"bold","offset":0},"vconcat":[
 {"spacing":1,"title":{"text":"Log₂-normalized expression","orient":"left","anchor":"middle","fontSize":7,"offset":2},"vconcat":[
  {"width":179,"height":18,"data":{"values":[{}]},"view":{"fill":"#d9d9d9","stroke":null},
   "mark":{"type":"text","text":"TET methylation erasers","fontWeight":"bold","fontSize":8.8,"color":"#111"},
   "encoding":{"y":{"datum":0,"type":"quantitative","scale":{"domain":[-1,1]},"axis":{"orient":"left","offset":2.5,"domainWidth":5,"domainColor":"#d9d9d9","domainCap":"butt","ticks":false,"labels":false,"title":null}}}},
  {"width":171,"height":32,"data":{"name":"g"},"transform":[{"filter":"datum.g=='tet1'"}],
   "encoding":{"x":{"field":"s","type":"ordinal","scale":{"type":"point","padding":0.5,"domain":["CF","S1","S2","S3","S4","S5a","S5b","S6","TP"]},"axis":{"labels":false,"title":null}}},
   "layer":[
    {"mark":{"type":"line","color":"#8da0d0","strokeWidth":0.9},"encoding":{"y":{"field":"m","type":"quantitative","scale":{"domain":[1.3,7.3],"zero":false,"nice":false},"axis":{"values":[2,3,4,5,6,7],"title":null}}}},
    {"mark":{"type":"errorbar","ticks":true,"color":"#444","thickness":0.6,"size":7},"encoding":{"y":{"field":"lo","type":"quantitative","axis":null},"y2":{"field":"hi"}}},
    {"transform":[{"flatten":["r"]}],"mark":{"type":"circle","size":3,"color":"#000","opacity":1},"encoding":{"y":{"field":"r","type":"quantitative","axis":null}}},
    {"mark":{"type":"point","shape":"circle","filled":true,"fill":"#fff","stroke":"#555","strokeWidth":0.7,"size":14,"opacity":1},"encoding":{"y":{"field":"m","type":"quantitative","axis":{"orient":"right","offset":6,"domainWidth":8,"domainColor":"#d0d0d0","domainCap":"butt","ticks":false,"labels":false,"title":"tet1","titleAngle":90,"titlePadding":-2.5,"titleFontStyle":"italic","titleFontSize":5.5,"titleColor":"#333","titleBaseline":"bottom"}}}}
   ],"resolve":{"axis":{"y":"independent"}}},
  {"width":171,"height":34,"data":{"name":"g"},"transform":[{"filter":"datum.g=='tet2'"}],
   "encoding":{"x":{"field":"s","type":"ordinal","scale":{"type":"point","padding":0.5,"domain":["CF","S1","S2","S3","S4","S5a","S5b","S6","TP"]},"axis":{"labels":false,"title":null}}},
   "layer":[
    {"mark":{"type":"line","color":"#8da0d0","strokeWidth":0.9},"encoding":{"y":{"field":"m","type":"quantitative","scale":{"domain":[1.7,8.6],"zero":false,"nice":false},"axis":{"values":[2,4,6,8],"title":null}}}},
    {"mark":{"type":"errorbar","ticks":true,"color":"#444","thickness":0.6,"size":7},"encoding":{"y":{"field":"lo","type":"quantitative","axis":null},"y2":{"field":"hi"}}},
    {"transform":[{"flatten":["r"]}],"mark":{"type":"circle","size":3,"color":"#000","opacity":1},"encoding":{"y":{"field":"r","type":"quantitative","axis":null}}},
    {"mark":{"type":"point","shape":"circle","filled":true,"fill":"#fff","stroke":"#555","strokeWidth":0.7,"size":14,"opacity":1},"encoding":{"y":{"field":"m","type":"quantitative","axis":{"orient":"right","offset":6,"domainWidth":8,"domainColor":"#d0d0d0","domainCap":"butt","ticks":false,"labels":false,"title":"tet2","titleAngle":90,"titlePadding":-2.5,"titleFontStyle":"italic","titleFontSize":5.5,"titleColor":"#333","titleBaseline":"bottom"}}}}
   ],"resolve":{"axis":{"y":"independent"}}},
  {"width":171,"height":32,"data":{"name":"g"},"transform":[{"filter":"datum.g=='tet3'"}],
   "encoding":{"x":{"field":"s","type":"ordinal","scale":{"type":"point","padding":0.5,"domain":["CF","S1","S2","S3","S4","S5a","S5b","S6","TP"]},"axis":{"labelAngle":0,"labelFontSize":7,"title":"Sex change stage","titlePadding":2}}},
   "layer":[
    {"mark":{"type":"line","color":"#8da0d0","strokeWidth":0.9},"encoding":{"y":{"field":"m","type":"quantitative","scale":{"domain":[3.4,9.3],"zero":false,"nice":false},"axis":{"values":[4,5,6,7,8,9],"title":null}}}},
    {"mark":{"type":"errorbar","ticks":true,"color":"#444","thickness":0.6,"size":7},"encoding":{"y":{"field":"lo","type":"quantitative","axis":null},"y2":{"field":"hi"}}},
    {"transform":[{"flatten":["r"]}],"mark":{"type":"circle","size":3,"color":"#000","opacity":1},"encoding":{"y":{"field":"r","type":"quantitative","axis":null}}},
    {"mark":{"type":"point","shape":"circle","filled":true,"fill":"#fff","stroke":"#555","strokeWidth":0.7,"size":14,"opacity":1},"encoding":{"y":{"field":"m","type":"quantitative","axis":{"orient":"right","offset":6,"domainWidth":8,"domainColor":"#d0d0d0","domainCap":"butt","ticks":false,"labels":false,"title":"tet3","titleAngle":90,"titlePadding":-2.5,"titleFontStyle":"italic","titleFontSize":5.5,"titleColor":"#333","titleBaseline":"bottom"}}}}
   ],"resolve":{"axis":{"y":"independent"}}}
 ]}]},
 {"title":{"text":"D","anchor":"start","fontSize":8.5,"fontWeight":"bold","offset":3},"vconcat":[
 {"spacing":1,"title":{"text":"Log₂-normalized expression","orient":"left","anchor":"middle","fontSize":7,"offset":2},"vconcat":[
  {"width":177,"height":15,"data":{"values":[{}]},"view":{"fill":"#d9d9d9","stroke":null},
   "mark":{"type":"text","text":"Polycomb repressive complex 2 and H2A.Z","fontWeight":"bold","fontSize":8.2,"color":"#111"},
   "encoding":{"y":{"datum":0,"type":"quantitative","scale":{"domain":[-1,1]},"axis":{"orient":"left","offset":3,"domainWidth":6,"domainColor":"#d9d9d9","domainCap":"butt","ticks":false,"labels":false,"title":null}}}},
  {"width":171,"height":31,"data":{"name":"g"},"transform":[{"filter":"datum.g=='eed'"}],
   "title":{"text":" ","fontSize":6,"offset":2},
   "encoding":{"x":{"field":"s","type":"ordinal","scale":{"type":"point","padding":0.5,"domain":["CF","S1","S2","S3","S4","S5a","S5b","S6","TP"]},"axis":{"labels":false,"title":null}}},
   "layer":[
    {"mark":{"type":"line","color":"#c6c6c6","strokeWidth":0.9},"encoding":{"y":{"field":"m","type":"quantitative","scale":{"domain":[8.3,10.75],"zero":false,"nice":false},"axis":{"values":[8.5,9,9.5,10,10.5],"format":".1f","title":null}}}},
    {"mark":{"type":"errorbar","ticks":true,"color":"#444","thickness":0.6,"size":7},"encoding":{"y":{"field":"lo","type":"quantitative","axis":null},"y2":{"field":"hi"}}},
    {"transform":[{"flatten":["r"]}],"mark":{"type":"circle","size":3,"color":"#000","opacity":1},"encoding":{"y":{"field":"r","type":"quantitative","axis":null}}},
    {"mark":{"type":"point","shape":"circle","filled":true,"fill":"#fff","stroke":"#555","strokeWidth":0.7,"size":14,"opacity":1},"encoding":{"y":{"field":"m","type":"quantitative","axis":{"orient":"right","offset":6,"domainWidth":8,"domainColor":"#d0d0d0","domainCap":"butt","ticks":false,"labels":false,"title":"eed","titleAngle":90,"titlePadding":-2.5,"titleFontStyle":"italic","titleFontSize":5.5,"titleColor":"#333","titleBaseline":"bottom"}}}}
   ],"resolve":{"axis":{"y":"independent"}}},
  {"width":171,"height":33,"data":{"name":"g"},"transform":[{"filter":"datum.g=='ezh2'"}],
   "encoding":{"x":{"field":"s","type":"ordinal","scale":{"type":"point","padding":0.5,"domain":["CF","S1","S2","S3","S4","S5a","S5b","S6","TP"]},"axis":{"labels":false,"title":null}}},
   "layer":[
    {"mark":{"type":"line","color":"#c6c6c6","strokeWidth":0.9},"encoding":{"y":{"field":"m","type":"quantitative","scale":{"domain":[4.9,9.2],"zero":false,"nice":false},"axis":{"values":[5,6,7,8,9],"title":null}}}},
    {"mark":{"type":"errorbar","ticks":true,"color":"#444","thickness":0.6,"size":7},"encoding":{"y":{"field":"lo","type":"quantitative","axis":null},"y2":{"field":"hi"}}},
    {"transform":[{"flatten":["r"]}],"mark":{"type":"circle","size":3,"color":"#000","opacity":1},"encoding":{"y":{"field":"r","type":"quantitative","axis":null}}},
    {"mark":{"type":"point","shape":"circle","filled":true,"fill":"#fff","stroke":"#555","strokeWidth":0.7,"size":14,"opacity":1},"encoding":{"y":{"field":"m","type":"quantitative","axis":{"orient":"right","offset":6,"domainWidth":8,"domainColor":"#d0d0d0","domainCap":"butt","ticks":false,"labels":false,"title":"ezh2","titleAngle":90,"titlePadding":-2.5,"titleFontStyle":"italic","titleFontSize":5.5,"titleColor":"#333","titleBaseline":"bottom"}}}}
   ],"resolve":{"axis":{"y":"independent"}}},
  {"width":171,"height":32,"data":{"name":"g"},"transform":[{"filter":"datum.g=='suz12b'"}],
   "encoding":{"x":{"field":"s","type":"ordinal","scale":{"type":"point","padding":0.5,"domain":["CF","S1","S2","S3","S4","S5a","S5b","S6","TP"]},"axis":{"labels":false,"title":null}}},
   "layer":[
    {"mark":{"type":"line","color":"#c6c6c6","strokeWidth":0.9},"encoding":{"y":{"field":"m","type":"quantitative","scale":{"domain":[5.5,9.3],"zero":false,"nice":false},"axis":{"values":[6,7,8,9],"title":null}}}},
    {"mark":{"type":"errorbar","ticks":true,"color":"#444","thickness":0.6,"size":7},"encoding":{"y":{"field":"lo","type":"quantitative","axis":null},"y2":{"field":"hi"}}},
    {"transform":[{"flatten":["r"]}],"mark":{"type":"circle","size":3,"color":"#000","opacity":1},"encoding":{"y":{"field":"r","type":"quantitative","axis":null}}},
    {"mark":{"type":"point","shape":"circle","filled":true,"fill":"#fff","stroke":"#555","strokeWidth":0.7,"size":14,"opacity":1},"encoding":{"y":{"field":"m","type":"quantitative","axis":{"orient":"right","offset":6,"domainWidth":8,"domainColor":"#d0d0d0","domainCap":"butt","ticks":false,"labels":false,"title":"suz12b","titleAngle":90,"titlePadding":-2.5,"titleFontStyle":"italic","titleFontSize":5.5,"titleColor":"#333","titleBaseline":"bottom"}}}}
   ],"resolve":{"axis":{"y":"independent"}}},
  {"width":171,"height":33,"data":{"name":"g"},"transform":[{"filter":"datum.g=='jarid2'"}],
   "encoding":{"x":{"field":"s","type":"ordinal","scale":{"type":"point","padding":0.5,"domain":["CF","S1","S2","S3","S4","S5a","S5b","S6","TP"]},"axis":{"labels":false,"title":null}}},
   "layer":[
    {"mark":{"type":"line","color":"#c6c6c6","strokeWidth":0.9},"encoding":{"y":{"field":"m","type":"quantitative","scale":{"domain":[2.8,7.2],"zero":false,"nice":false},"axis":{"values":[3,4,5,6,7],"title":null}}}},
    {"mark":{"type":"errorbar","ticks":true,"color":"#444","thickness":0.6,"size":7},"encoding":{"y":{"field":"lo","type":"quantitative","axis":null},"y2":{"field":"hi"}}},
    {"transform":[{"flatten":["r"]}],"mark":{"type":"circle","size":3,"color":"#000","opacity":1},"encoding":{"y":{"field":"r","type":"quantitative","axis":null}}},
    {"mark":{"type":"point","shape":"circle","filled":true,"fill":"#fff","stroke":"#555","strokeWidth":0.7,"size":14,"opacity":1},"encoding":{"y":{"field":"m","type":"quantitative","axis":{"orient":"right","offset":6,"domainWidth":8,"domainColor":"#d0d0d0","domainCap":"butt","ticks":false,"labels":false,"title":"jarid2","titleAngle":90,"titlePadding":-2.5,"titleFontStyle":"italic","titleFontSize":5.5,"titleColor":"#333","titleBaseline":"bottom"}}}}
   ],"resolve":{"axis":{"y":"independent"}}},
  {"width":171,"height":32,"data":{"name":"g"},"transform":[{"filter":"datum.g=='h2afz'"}],
   "encoding":{"x":{"field":"s","type":"ordinal","scale":{"type":"point","padding":0.5,"domain":["CF","S1","S2","S3","S4","S5a","S5b","S6","TP"]},"axis":{"labelAngle":0,"labelFontSize":7,"title":"Sex change stage","titlePadding":2}}},
   "layer":[
    {"mark":{"type":"line","color":"#c6c6c6","strokeWidth":0.9},"encoding":{"y":{"field":"m","type":"quantitative","scale":{"domain":[9.2,14.6],"zero":false,"nice":false},"axis":{"values":[10,11,12,13,14],"title":null}}}},
    {"mark":{"type":"errorbar","ticks":true,"color":"#444","thickness":0.6,"size":7},"encoding":{"y":{"field":"lo","type":"quantitative","axis":null},"y2":{"field":"hi"}}},
    {"transform":[{"flatten":["r"]}],"mark":{"type":"circle","size":3,"color":"#000","opacity":1},"encoding":{"y":{"field":"r","type":"quantitative","axis":null}}},
    {"mark":{"type":"point","shape":"circle","filled":true,"fill":"#fff","stroke":"#555","strokeWidth":0.7,"size":14,"opacity":1},"encoding":{"y":{"field":"m","type":"quantitative","axis":{"orient":"right","offset":6,"domainWidth":8,"domainColor":"#d0d0d0","domainCap":"butt","ticks":false,"labels":false,"title":"h2afz","titleAngle":90,"titlePadding":-2.5,"titleFontStyle":"italic","titleFontSize":5.5,"titleColor":"#333","titleBaseline":"bottom"}}}}
   ],"resolve":{"axis":{"y":"independent"}}}
 ]}]}
]}
]
}
